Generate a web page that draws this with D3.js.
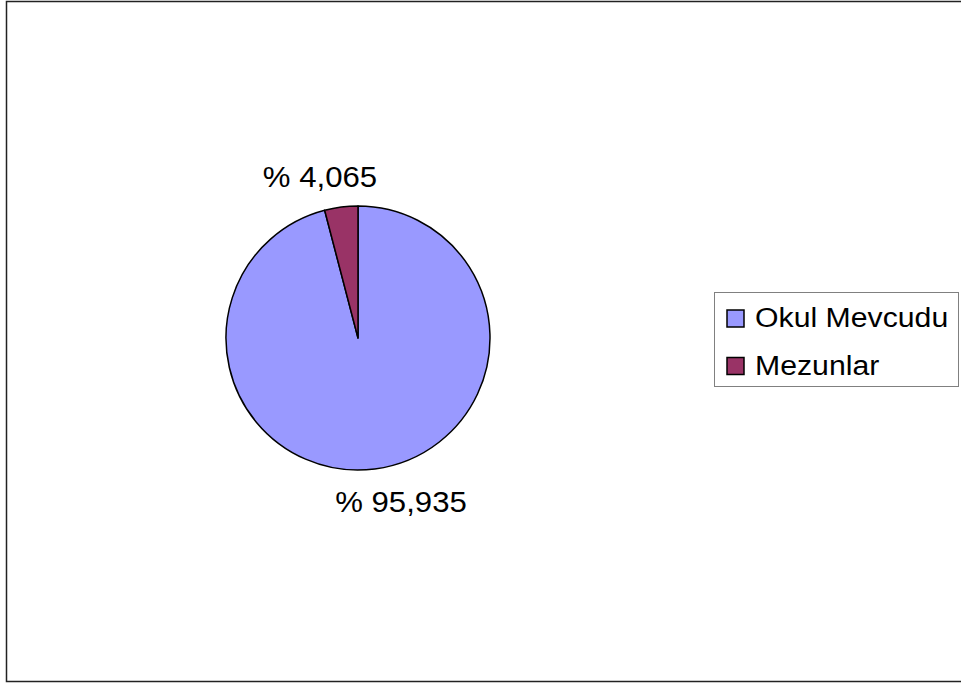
<!DOCTYPE html>
<html><head><meta charset="utf-8">
<script src="https://cdn.jsdelivr.net/npm/d3@7"></script>
<style>body{margin:0;background:#fff}svg{display:block}text{font-family:"Liberation Sans",Arial,sans-serif;fill:#000}</style>
</head><body>
<svg id="c" width="961" height="684"></svg>
<script>
const categories = ["Okul Mevcudu", "Mezunlar"];
const values = [95.935, 4.065];
const labels = ["% 95,935", "% 4,065"];
const colors = ["#9999FF", "#993366"];

const svg = d3.select("#c");
svg.append("rect").attr("x",6.5).attr("y",1.5).attr("width",960).attr("height",680)
  .attr("fill","#fff").attr("stroke","#222").attr("stroke-width",1.5);

const cx = 358, cy = 338, r = 132;
const data = categories.map((c,i)=>({name:c,value:values[i],label:labels[i],color:colors[i]}));
const pie = d3.pie().sort(null).value(d=>d.value);
const arc = d3.arc().innerRadius(0).outerRadius(r);
const g = svg.append("g").attr("transform",`translate(${cx},${cy})`);
const arcs = pie(data);
g.selectAll("path").data(arcs).join("path").attr("d",arc)
  .attr("fill",d=>d.data.color).attr("stroke","#000").attr("stroke-width",1.5).attr("stroke-linejoin","round");

// labels
const labelPos = [[401,512],[320,187]];
svg.selectAll("text.lbl").data(arcs).join("text").attr("class","lbl")
  .attr("transform",(d,i)=>`translate(${labelPos[i][0]},${labelPos[i][1]}) scale(1.075,1)`)
  .attr("text-anchor","middle").attr("font-size",29).text(d=>d.data.label);

// legend
const lg = svg.append("g");
lg.append("rect").attr("x",714.5).attr("y",292.5).attr("width",244).attr("height",94)
  .attr("fill","#fff").attr("stroke","#808080").attr("stroke-width",1);
const items = lg.selectAll("g.it").data(data).join("g").attr("class","it")
  .attr("transform",(d,i)=>`translate(0,${i*47.5})`);
items.append("rect").attr("x",727).attr("y",310).attr("width",17).attr("height",17)
  .attr("fill",d=>d.color).attr("stroke","#000").attr("stroke-width",1.5);
items.append("text").attr("transform","translate(755,327) scale(1.12,1)")
  .attr("font-size",27).text(d=>d.name);
</script>
</body></html>
